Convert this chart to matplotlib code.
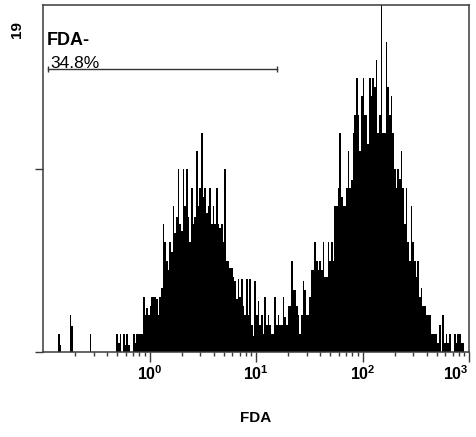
import numpy as np
import matplotlib
matplotlib.use("Agg")
import matplotlib.pyplot as plt

plt.rcParams['font.family'] = ['Liberation Sans', 'DejaVu Sans']
plt.rcParams['mathtext.fontset'] = 'custom'
plt.rcParams['mathtext.rm'] = 'Liberation Sans'
plt.rcParams['mathtext.bf'] = 'Liberation Sans:bold'

# Histogram counts, 64 channels per decade (0.1 .. 1000)
counts_decade1 = [0, 0, 0, 0, 0, 0, 0, 0, 0, 1.0, 0.4, 0, 0, 0, 0, 0,
                  2.0, 1.4, 0, 0, 0, 0, 0, 0, 0, 0, 0, 0, 1.0, 0, 0, 0,
                  0, 0, 0, 0, 0, 0, 0, 0, 0, 0, 0, 0, 1.0, 0.5, 1.0, 0,
                  1.0, 0.4, 1.0, 0.4, 0, 0, 1.0, 0.5, 1.0, 1.0, 1.0, 1.0, 3.0, 2.0, 2.4, 2.0]
counts_decade2 = [2.5, 3.0, 3.0, 3.0, 2.9, 2.0, 3.0, 3.5, 7.0, 6.0, 5.0, 4.5, 6.0, 5.5, 8.0, 6.5,
                  7.4, 10.0, 7.0, 6.6, 10.0, 8.0, 10.0, 7.4, 6.0, 9.0, 7.0, 7.4, 11.0, 8.0, 9.0, 12.0,
                  8.5, 9.0, 7.6, 8.0, 9.0, 7.0, 8.0, 7.0, 9.0, 7.0, 6.8, 7.0, 6.0, 10.0, 5.0, 5.0,
                  4.6, 4.6, 4.1, 3.9, 2.9, 4.0, 3.0, 4.0, 2.5, 2.0, 4.0, 2.0, 4.0, 1.5, 0.9, 3.9]
counts_decade3 = [2.0, 2.8, 1.5, 2.0, 1.0, 3.0, 1.5, 2.0, 1.5, 1.0, 1.0, 3.0, 1.5, 2.0, 1.5, 1.5,
                  3.0, 1.9, 1.5, 2.5, 2.5, 5.0, 3.4, 3.4, 2.5, 2.0, 1.0, 2.0, 3.9, 3.4, 2.0, 2.0,
                  3.0, 4.5, 4.5, 6.0, 5.0, 4.5, 5.0, 4.5, 6.0, 4.1, 4.1, 6.0, 5.0, 6.0, 5.0, 8.0,
                  8.0, 9.0, 12.0, 8.5, 8.0, 8.0, 9.0, 11.0, 9.0, 9.4, 12.0, 13.0, 15.0, 13.0, 11.0, 14.0]
counts_decade4 = [15.0, 13.0, 13.0, 11.4, 15.0, 14.0, 15.0, 14.5, 16.0, 12.0, 13.0, 22.0, 12.0, 12.0, 17.0, 14.5,
                  13.0, 14.0, 12.0, 10.0, 9.0, 10.0, 9.5, 11.0, 9.0, 7.0, 9.0, 6.0, 5.0, 8.0, 6.0, 5.0,
                  4.1, 5.0, 3.0, 3.5, 2.5, 2.5, 2.0, 2.0, 2.0, 1.0, 1.0, 1.0, 1.0, 0.5, 1.5, 0,
                  2.0, 0.5, 1.0, 0.5, 1.0, 0, 0, 1.0, 0.5, 1.0, 1.0, 0.5, 0.5, 0, 0, 0]
counts = np.array(counts_decade1 + counts_decade2 + counts_decade3 + counts_decade4)
channel_edges = np.logspace(-1, 3, len(counts) + 1)

x_ticklabels = [r'$\mathbf{10^{0}}$', r'$\mathbf{10^{1}}$', r'$\mathbf{10^{2}}$', r'$\mathbf{10^{3}}$']
x_tickvalues = [1, 10, 100, 1000]
y_max = 19
y_tickvalues = [0, 10]
gate_range = [0.112, 15.9]
gate_level = 15.5
gate_name = "FDA-"
gate_percent = "34.8%"
x_label = "FDA"

W, H = 476, 437
fig = plt.figure(figsize=(W / 100, H / 100), dpi=100)
ax = fig.add_axes([43 / W, 1 - 352 / H, 426 / W, 347 / H])

ax.stairs(counts, channel_edges, fill=True, color='black', linewidth=0)
ax.set_xscale('log')
ax.set_xlim(0.1, 1000)
ax.set_ylim(0, y_max)

ax.plot(gate_range, [gate_level, gate_level], color='#333333', lw=1.0,
        marker='|', markersize=5, markeredgewidth=1.0)

for s in ax.spines.values():
    s.set_color('#3a3a3a')
    s.set_linewidth(1.1)

ax.set_xticks(x_tickvalues)
ax.set_xticklabels(x_ticklabels, fontsize=11.5)
ax.get_xticklabels()[-1].set_horizontalalignment('right')
ax.xaxis.set_minor_locator(matplotlib.ticker.LogLocator(base=10, subs=np.arange(2, 10)))
ax.xaxis.set_minor_formatter(matplotlib.ticker.NullFormatter())
ax.tick_params(axis='x', which='major', length=7, width=1.0, color='#3a3a3a', pad=2, direction='out')
ax.tick_params(axis='x', which='minor', length=3, width=1.0, color='#3a3a3a', direction='out')
ax.set_yticks(y_tickvalues)
ax.set_yticklabels([])
ax.tick_params(axis='y', which='major', length=6, width=1.0, color='#3a3a3a', direction='out')

fig.text(16.5 / W, 1 - 30 / H, str(y_max), rotation=90, ha='center', va='center',
         fontsize=11, fontweight='bold')
fig.text(47 / W, 1 - 45 / H, gate_name, ha='left', va='baseline', fontsize=13, fontweight='bold')
fig.text(50 / W, 1 - 68 / H, gate_percent, ha='left', va='baseline', fontsize=12.5)
fig.text(256 / W, 1 - 421.5 / H, x_label, ha='center', va='baseline', fontsize=11, fontweight='bold')

fig.savefig('out.png', dpi=100)
